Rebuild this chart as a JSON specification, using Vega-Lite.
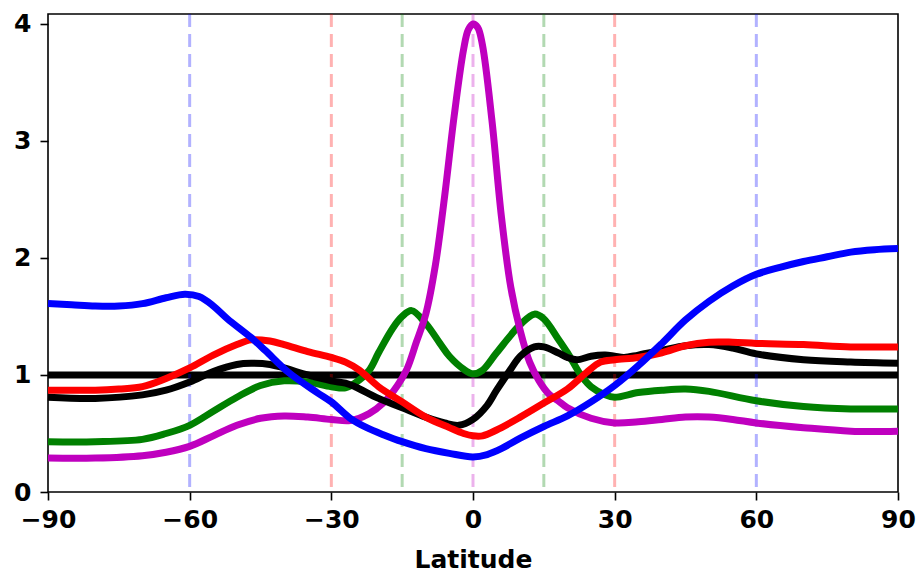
{
  "$schema": "https://vega.github.io/schema/vega-lite/v6.json",
  "width": 850,
  "height": 478,
  "autosize": {"type": "none"},
  "padding": {"left": 48, "top": 14, "right": 22, "bottom": 80},
  "background": "white",
  "config": {
    "view": {"stroke": "black", "strokeWidth": 1.6},
    "axis": {
      "grid": false,
      "domain": false,
      "tickColor": "black",
      "tickWidth": 1.6,
      "tickSize": 8,
      "labelFont": "DejaVu Sans",
      "labelFontWeight": "bold",
      "labelFontSize": 25,
      "labelColor": "black",
      "titleFont": "DejaVu Sans",
      "titleFontWeight": "bold",
      "titleFontSize": 25,
      "titleColor": "black"
    }
  },
  "datasets": {
    "guides": [
      {"lat": -60, "c": "#0000ff"},
      {"lat": 60, "c": "#0000ff"},
      {"lat": -30, "c": "#ff0000"},
      {"lat": 30, "c": "#ff0000"},
      {"lat": -15, "c": "#008000"},
      {"lat": 15, "c": "#008000"},
      {"lat": 0, "c": "#bf00bf"}
    ],
    "ref": [{"v": 1}],
    "green": [
      {"lat": -90, "v": 0.43}, {"lat": -80, "v": 0.43}, {"lat": -70, "v": 0.45}, {"lat": -65, "v": 0.5},
      {"lat": -60, "v": 0.57}, {"lat": -55, "v": 0.69}, {"lat": -50, "v": 0.81}, {"lat": -45, "v": 0.91},
      {"lat": -40, "v": 0.95}, {"lat": -35, "v": 0.94}, {"lat": -30, "v": 0.9}, {"lat": -27, "v": 0.89},
      {"lat": -25, "v": 0.93}, {"lat": -22, "v": 1.04}, {"lat": -20, "v": 1.19}, {"lat": -17, "v": 1.4},
      {"lat": -15, "v": 1.5}, {"lat": -13, "v": 1.55}, {"lat": -10, "v": 1.44}, {"lat": -7, "v": 1.27},
      {"lat": -5, "v": 1.16}, {"lat": -2, "v": 1.05}, {"lat": 0, "v": 1.01}, {"lat": 2, "v": 1.04},
      {"lat": 5, "v": 1.19}, {"lat": 10, "v": 1.43}, {"lat": 13, "v": 1.52}, {"lat": 15, "v": 1.48},
      {"lat": 18, "v": 1.31}, {"lat": 20, "v": 1.19}, {"lat": 23, "v": 0.99}, {"lat": 25, "v": 0.9},
      {"lat": 28, "v": 0.83}, {"lat": 30, "v": 0.81}, {"lat": 35, "v": 0.85}, {"lat": 40, "v": 0.87},
      {"lat": 45, "v": 0.88}, {"lat": 50, "v": 0.86}, {"lat": 60, "v": 0.78}, {"lat": 70, "v": 0.73},
      {"lat": 80, "v": 0.71}, {"lat": 90, "v": 0.71}
    ],
    "magenta": [
      {"lat": -90, "v": 0.29}, {"lat": -80, "v": 0.29}, {"lat": -70, "v": 0.31}, {"lat": -65, "v": 0.34},
      {"lat": -60, "v": 0.39}, {"lat": -55, "v": 0.48}, {"lat": -50, "v": 0.57}, {"lat": -45, "v": 0.63},
      {"lat": -40, "v": 0.65}, {"lat": -35, "v": 0.64}, {"lat": -30, "v": 0.62}, {"lat": -26, "v": 0.61},
      {"lat": -22, "v": 0.67}, {"lat": -19, "v": 0.76}, {"lat": -16, "v": 0.91}, {"lat": -14, "v": 1.05},
      {"lat": -12, "v": 1.28}, {"lat": -10, "v": 1.52}, {"lat": -8, "v": 1.93}, {"lat": -6, "v": 2.53},
      {"lat": -4, "v": 3.21}, {"lat": -2, "v": 3.78}, {"lat": -1, "v": 3.95}, {"lat": 0, "v": 4.0},
      {"lat": 1, "v": 3.97}, {"lat": 2, "v": 3.82}, {"lat": 4, "v": 3.18}, {"lat": 6, "v": 2.36},
      {"lat": 8, "v": 1.75}, {"lat": 10, "v": 1.38}, {"lat": 12, "v": 1.11}, {"lat": 14, "v": 0.95},
      {"lat": 16, "v": 0.84}, {"lat": 18, "v": 0.78}, {"lat": 20, "v": 0.72}, {"lat": 25, "v": 0.63},
      {"lat": 30, "v": 0.59}, {"lat": 35, "v": 0.6}, {"lat": 40, "v": 0.62}, {"lat": 45, "v": 0.64},
      {"lat": 50, "v": 0.64}, {"lat": 55, "v": 0.62}, {"lat": 60, "v": 0.59}, {"lat": 70, "v": 0.55},
      {"lat": 80, "v": 0.52}, {"lat": 90, "v": 0.52}
    ],
    "black": [
      {"lat": -90, "v": 0.81}, {"lat": -80, "v": 0.8}, {"lat": -70, "v": 0.83}, {"lat": -65, "v": 0.87},
      {"lat": -60, "v": 0.94}, {"lat": -55, "v": 1.03}, {"lat": -50, "v": 1.09}, {"lat": -47, "v": 1.1},
      {"lat": -43, "v": 1.09}, {"lat": -40, "v": 1.06}, {"lat": -35, "v": 1.0}, {"lat": -30, "v": 0.95},
      {"lat": -27, "v": 0.93}, {"lat": -25, "v": 0.9}, {"lat": -20, "v": 0.8}, {"lat": -15, "v": 0.72},
      {"lat": -10, "v": 0.64}, {"lat": -6, "v": 0.59}, {"lat": -3, "v": 0.57}, {"lat": 0, "v": 0.62},
      {"lat": 3, "v": 0.74}, {"lat": 5, "v": 0.87}, {"lat": 8, "v": 1.05}, {"lat": 10, "v": 1.16},
      {"lat": 13, "v": 1.24}, {"lat": 15, "v": 1.24}, {"lat": 18, "v": 1.19}, {"lat": 20, "v": 1.15},
      {"lat": 22, "v": 1.13}, {"lat": 25, "v": 1.16}, {"lat": 28, "v": 1.17}, {"lat": 30, "v": 1.16},
      {"lat": 32, "v": 1.15}, {"lat": 35, "v": 1.17}, {"lat": 40, "v": 1.21}, {"lat": 45, "v": 1.25},
      {"lat": 50, "v": 1.26}, {"lat": 55, "v": 1.23}, {"lat": 60, "v": 1.18}, {"lat": 70, "v": 1.13},
      {"lat": 80, "v": 1.11}, {"lat": 90, "v": 1.1}
    ],
    "red": [
      {"lat": -90, "v": 0.87}, {"lat": -80, "v": 0.87}, {"lat": -75, "v": 0.88}, {"lat": -70, "v": 0.9},
      {"lat": -65, "v": 0.97}, {"lat": -60, "v": 1.06}, {"lat": -55, "v": 1.17}, {"lat": -50, "v": 1.26},
      {"lat": -47, "v": 1.3}, {"lat": -43, "v": 1.29}, {"lat": -40, "v": 1.26}, {"lat": -35, "v": 1.2},
      {"lat": -30, "v": 1.15}, {"lat": -27, "v": 1.11}, {"lat": -24, "v": 1.04}, {"lat": -20, "v": 0.9},
      {"lat": -15, "v": 0.77}, {"lat": -10, "v": 0.64}, {"lat": -5, "v": 0.55}, {"lat": -2, "v": 0.5},
      {"lat": 0, "v": 0.48}, {"lat": 2, "v": 0.48}, {"lat": 5, "v": 0.53}, {"lat": 10, "v": 0.64},
      {"lat": 15, "v": 0.76}, {"lat": 20, "v": 0.88}, {"lat": 24, "v": 1.02}, {"lat": 27, "v": 1.11},
      {"lat": 30, "v": 1.13}, {"lat": 35, "v": 1.15}, {"lat": 40, "v": 1.19}, {"lat": 45, "v": 1.25},
      {"lat": 50, "v": 1.28}, {"lat": 55, "v": 1.28}, {"lat": 60, "v": 1.27}, {"lat": 70, "v": 1.26},
      {"lat": 80, "v": 1.24}, {"lat": 90, "v": 1.24}
    ],
    "blue": [
      {"lat": -90, "v": 1.61}, {"lat": -85, "v": 1.6}, {"lat": -80, "v": 1.59}, {"lat": -75, "v": 1.59},
      {"lat": -70, "v": 1.61}, {"lat": -65, "v": 1.66}, {"lat": -61, "v": 1.69}, {"lat": -58, "v": 1.67},
      {"lat": -55, "v": 1.59}, {"lat": -52, "v": 1.48}, {"lat": -47, "v": 1.32}, {"lat": -44, "v": 1.21},
      {"lat": -39, "v": 1.02}, {"lat": -33, "v": 0.85}, {"lat": -30, "v": 0.77}, {"lat": -26, "v": 0.63},
      {"lat": -22.5, "v": 0.55}, {"lat": -19, "v": 0.49}, {"lat": -15, "v": 0.43}, {"lat": -10, "v": 0.37},
      {"lat": -5, "v": 0.33}, {"lat": 0, "v": 0.3}, {"lat": 3, "v": 0.32}, {"lat": 6, "v": 0.37},
      {"lat": 10, "v": 0.46}, {"lat": 15, "v": 0.56}, {"lat": 20, "v": 0.65}, {"lat": 25, "v": 0.77},
      {"lat": 30, "v": 0.91}, {"lat": 35, "v": 1.08}, {"lat": 40, "v": 1.27}, {"lat": 45, "v": 1.47},
      {"lat": 50, "v": 1.63}, {"lat": 55, "v": 1.76}, {"lat": 60, "v": 1.86}, {"lat": 65, "v": 1.92},
      {"lat": 70, "v": 1.97}, {"lat": 75, "v": 2.01}, {"lat": 80, "v": 2.05}, {"lat": 85, "v": 2.07},
      {"lat": 90, "v": 2.08}
    ]
  },
  "encoding": {
    "x": {
      "field": "lat", "type": "quantitative",
      "scale": {"domain": [-90, 90], "nice": false, "zero": false},
      "axis": {"values": [-90, -60, -30, 0, 30, 60, 90], "title": "Latitude", "labelPadding": 7, "titlePadding": 15, "labelFlush": false}
    },
    "y": {
      "field": "v", "type": "quantitative",
      "scale": {"domain": [0, 4.085], "nice": false},
      "axis": {"values": [0, 1, 2, 3, 4], "title": null, "labelPadding": 9}
    }
  },
  "layer": [
    {
      "data": {"name": "ref"},
      "mark": {"type": "rule", "color": "black", "strokeWidth": 7},
      "encoding": {"x": null, "y": {"field": "v", "type": "quantitative"}}
    },
    {
      "data": {"name": "guides"},
      "mark": {"type": "rule", "strokeWidth": 3, "strokeDash": [13, 7], "opacity": 0.3},
      "encoding": {
        "y": null,
        "x": {"field": "lat", "type": "quantitative"},
        "color": {"field": "c", "type": "nominal", "scale": null}
      }
    },
    {"data": {"name": "green"}, "mark": {"type": "line", "color": "#008000", "strokeWidth": 7, "interpolate": "catmull-rom", "strokeJoin": "round"}},
    {"data": {"name": "magenta"}, "mark": {"type": "line", "color": "#bf00bf", "strokeWidth": 7, "interpolate": "catmull-rom", "strokeJoin": "round"}},
    {"data": {"name": "black"}, "mark": {"type": "line", "color": "black", "strokeWidth": 7, "interpolate": "catmull-rom", "strokeJoin": "round"}},
    {"data": {"name": "red"}, "mark": {"type": "line", "color": "#ff0000", "strokeWidth": 7, "interpolate": "catmull-rom", "strokeJoin": "round"}},
    {"data": {"name": "blue"}, "mark": {"type": "line", "color": "#0000ff", "strokeWidth": 7, "interpolate": "catmull-rom", "strokeJoin": "round"}}
  ]
}
